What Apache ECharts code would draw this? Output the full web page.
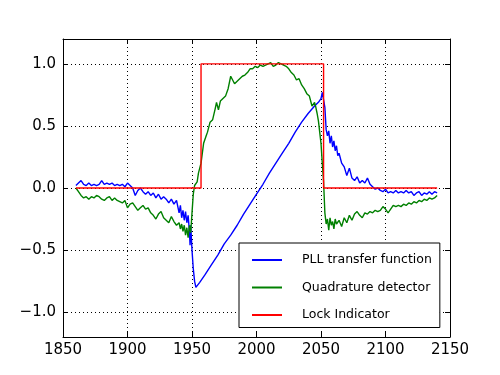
<!DOCTYPE html>
<html>
<head>
<meta charset="utf-8">
<script src="https://cdn.jsdelivr.net/npm/echarts@6/dist/echarts.min.js"></script>
<style>html,body{margin:0;padding:0;background:#fff}#c{width:500px;height:375px}</style>
</head>
<body>
<div id="c"></div>
<script>
const xTicks = [1850, 1900, 1950, 2000, 2050, 2100, 2150];
const yTicks = [-1.0, -0.5, 0.0, 0.5, 1.0];

const pllYears = [1860,1862,1864,1866,1868,1870,1872,1874,1876,1878,1880,1882,1884,1886,1888,1890,1892,1894,1896,1898,1900,1902,1904,1906,1908,1910,1912,1914,1916,1918,1920,1922,1924,1926,1928,1930,1932,1934,1936,1938,1940,1941,1942,1943,1944,1945,1946,1947,1948,1948.5,1949,1950,1951,1952,1953,1956,1960,1965,1970,1975,1980,1985,1990,1995,2000,2005,2010,2015,2020,2025,2030,2035,2040,2045,2048,2050,2051,2052,2053,2054,2055,2056,2057,2058,2059,2060,2061,2062,2063,2064,2066,2068,2070,2072,2074,2076,2078,2080,2082,2084,2086,2088,2090,2092,2094,2096,2098,2100,2102,2104,2106,2108,2110,2112,2114,2116,2118,2120,2122,2124,2126,2128,2130,2132,2134,2136,2138,2140];
const pllValues = [0.02,0.04,0.06,0.03,0.02,0.04,0.02,0.03,0.02,0.03,0.06,0.03,0.04,0.03,0.04,0.02,0.03,0.02,0.03,0.01,0.04,0.02,0.0,-0.06,-0.02,0.0,-0.03,-0.05,-0.03,-0.06,-0.04,-0.08,-0.05,-0.09,-0.07,-0.09,-0.12,-0.09,-0.13,-0.1,-0.2,-0.14,-0.24,-0.18,-0.26,-0.19,-0.28,-0.22,-0.35,-0.46,-0.3,-0.5,-0.65,-0.75,-0.8,-0.76,-0.7,-0.62,-0.54,-0.45,-0.38,-0.3,-0.21,-0.13,-0.05,0.03,0.12,0.2,0.28,0.36,0.45,0.53,0.6,0.66,0.69,0.72,0.77,0.78,0.65,0.47,0.42,0.46,0.36,0.42,0.33,0.38,0.3,0.34,0.26,0.28,0.2,0.17,0.1,0.16,0.08,0.06,0.09,0.04,0.06,0.04,0.08,0.03,0.01,-0.01,0.0,-0.02,-0.03,-0.01,-0.04,-0.03,-0.04,-0.02,-0.04,-0.03,-0.04,-0.02,-0.04,-0.03,-0.06,-0.04,-0.03,-0.06,-0.04,-0.05,-0.03,-0.05,-0.03,-0.04];

const quadYears = [1860,1862,1864,1866,1868,1870,1872,1874,1876,1878,1880,1882,1884,1886,1888,1890,1892,1894,1896,1898,1900,1902,1904,1906,1908,1910,1912,1914,1916,1918,1920,1922,1924,1926,1928,1930,1932,1934,1936,1938,1940,1941,1942,1943,1944,1945,1946,1947,1948,1949,1950,1951,1952,1954,1955,1957,1959,1961,1962,1964,1966,1968,1969,1970.5,1972,1974,1976,1978,1980,1981,1983,1985,1987,1989,1991,1993,1995,1997,1999,2001,2003,2005,2007,2009,2011,2013,2015,2017,2019,2021,2023,2025,2027,2029,2031,2033,2035,2037,2039,2041,2043,2045,2046,2047,2048,2049,2050,2051,2052,2053,2054,2055,2056,2057,2058,2059,2060,2061,2062,2064,2066,2068,2070,2072,2074,2076,2078,2080,2082,2084,2086,2088,2090,2092,2094,2096,2098,2100,2102,2104,2106,2108,2110,2112,2114,2116,2118,2120,2122,2124,2126,2128,2130,2132,2134,2136,2138,2140];
const quadValues = [0.0,-0.03,-0.06,-0.08,-0.07,-0.09,-0.07,-0.08,-0.06,-0.07,-0.09,-0.1,-0.08,-0.07,-0.1,-0.08,-0.1,-0.11,-0.12,-0.1,-0.16,-0.13,-0.12,-0.15,-0.18,-0.16,-0.14,-0.17,-0.16,-0.2,-0.22,-0.25,-0.21,-0.19,-0.24,-0.26,-0.28,-0.23,-0.27,-0.3,-0.28,-0.33,-0.29,-0.35,-0.3,-0.38,-0.32,-0.4,-0.3,-0.36,-0.2,-0.05,0.02,0.05,0.12,0.2,0.36,0.42,0.45,0.53,0.55,0.64,0.69,0.63,0.7,0.72,0.74,0.8,0.9,0.88,0.84,0.86,0.88,0.9,0.91,0.93,0.96,0.96,0.98,0.97,0.99,0.98,0.99,1.0,1.01,0.98,0.99,1.01,1.0,0.99,0.98,0.96,0.93,0.91,0.87,0.88,0.83,0.8,0.76,0.74,0.66,0.69,0.65,0.6,0.54,0.45,0.36,0.2,0.05,-0.2,-0.29,-0.25,-0.34,-0.24,-0.3,-0.27,-0.33,-0.25,-0.29,-0.26,-0.31,-0.24,-0.28,-0.22,-0.26,-0.21,-0.19,-0.22,-0.24,-0.2,-0.21,-0.19,-0.2,-0.18,-0.19,-0.18,-0.15,-0.17,-0.2,-0.17,-0.14,-0.15,-0.14,-0.15,-0.13,-0.14,-0.12,-0.13,-0.11,-0.12,-0.1,-0.11,-0.09,-0.1,-0.08,-0.09,-0.08,-0.06];

const lockYears = [1860, 1957, 1957, 2052, 2052, 2140];
const lockValues = [0, 0, 1, 1, 0, 0];

const seriesNames = ['PLL transfer function', 'Quadrature detector', 'Lock Indicator'];
const seriesColors = ['#0000ff', '#008000', '#ff0000'];

function pairs(xs, ys) { return xs.map((x, i) => [x, ys[i]]); }
function fmtY(v) {
  const s = Math.abs(v).toFixed(1);
  return v < -1e-9 ? '\u2212' + s : s;
}

const chart = echarts.init(document.getElementById('c'), null, { renderer: 'canvas' });
const font = 'DejaVu Sans';
const tickStyle = { show: true, inside: true, length: 5, lineStyle: { color: '#000', width: 1 } };
const lineAxis = { show: true, onZero: false, lineStyle: { color: '#000', width: 1 } };
const gridLine = { show: true, lineStyle: { color: '#000', type: [1, 3], width: 1 } };

chart.setOption({
  animation: false,
  backgroundColor: '#fff',
  grid: { left: 63, right: 50, top: 39, bottom: 38 },
  xAxis: [
    {
      type: 'value', min: 1850, max: 2150, interval: 50, position: 'bottom',
      axisLine: lineAxis, axisTick: tickStyle,
      axisLabel: { show: true, color: '#000', fontFamily: font, fontSize: 15, margin: 6,
        formatter: v => xTicks.includes(v) ? String(v) : '' },
      splitLine: gridLine
    },
    {
      type: 'value', min: 1850, max: 2150, interval: 50, position: 'top',
      axisLine: lineAxis, axisTick: tickStyle, axisLabel: { show: false }, splitLine: { show: false }
    }
  ],
  yAxis: [
    {
      type: 'value', min: -1.2, max: 1.2, position: 'left',
      axisLine: lineAxis,
      axisTick: Object.assign({}, tickStyle, { customValues: yTicks }),
      axisLabel: { show: true, color: '#000', fontFamily: font, fontSize: 15, margin: 7,
        customValues: yTicks, formatter: v => fmtY(v) },
      splitLine: gridLine
    },
    {
      type: 'value', min: -1.2, max: 1.2, position: 'right',
      axisLine: lineAxis,
      axisTick: Object.assign({}, tickStyle, { customValues: yTicks }),
      axisLabel: { show: false }, splitLine: { show: false }
    }
  ],
  legend: {
    show: true,
    left: 239, top: 243,
    orient: 'vertical',
    backgroundColor: '#fff',
    borderColor: '#000', borderWidth: 1, borderRadius: 0,
    padding: [9.5, 8, 5, 13],
    itemGap: 12.5,
    itemWidth: 30, itemHeight: 2,
    icon: 'rect',
    textStyle: { fontFamily: font, fontSize: 12.5, lineHeight: 15, color: '#000', padding: [0, 0, 0, 15] },
    data: seriesNames.map((n, i) => ({ name: n, itemStyle: { color: seriesColors[i] } }))
  },
  series: [
    { name: seriesNames[0], type: 'line', showSymbol: false, symbol: 'none',
      data: pairs(pllYears, pllValues), lineStyle: { color: seriesColors[0], width: 1.4 }, itemStyle: { color: seriesColors[0] }, z: 3 },
    { name: seriesNames[1], type: 'line', showSymbol: false, symbol: 'none',
      data: pairs(quadYears, quadValues), lineStyle: { color: seriesColors[1], width: 1.4 }, itemStyle: { color: seriesColors[1] }, z: 4 },
    { name: seriesNames[2], type: 'line', showSymbol: false, symbol: 'none',
      data: pairs(lockYears, lockValues), lineStyle: { color: seriesColors[2], width: 1.4 }, itemStyle: { color: seriesColors[2] }, z: 5 }
  ]
});
</script>
</body>
</html>
